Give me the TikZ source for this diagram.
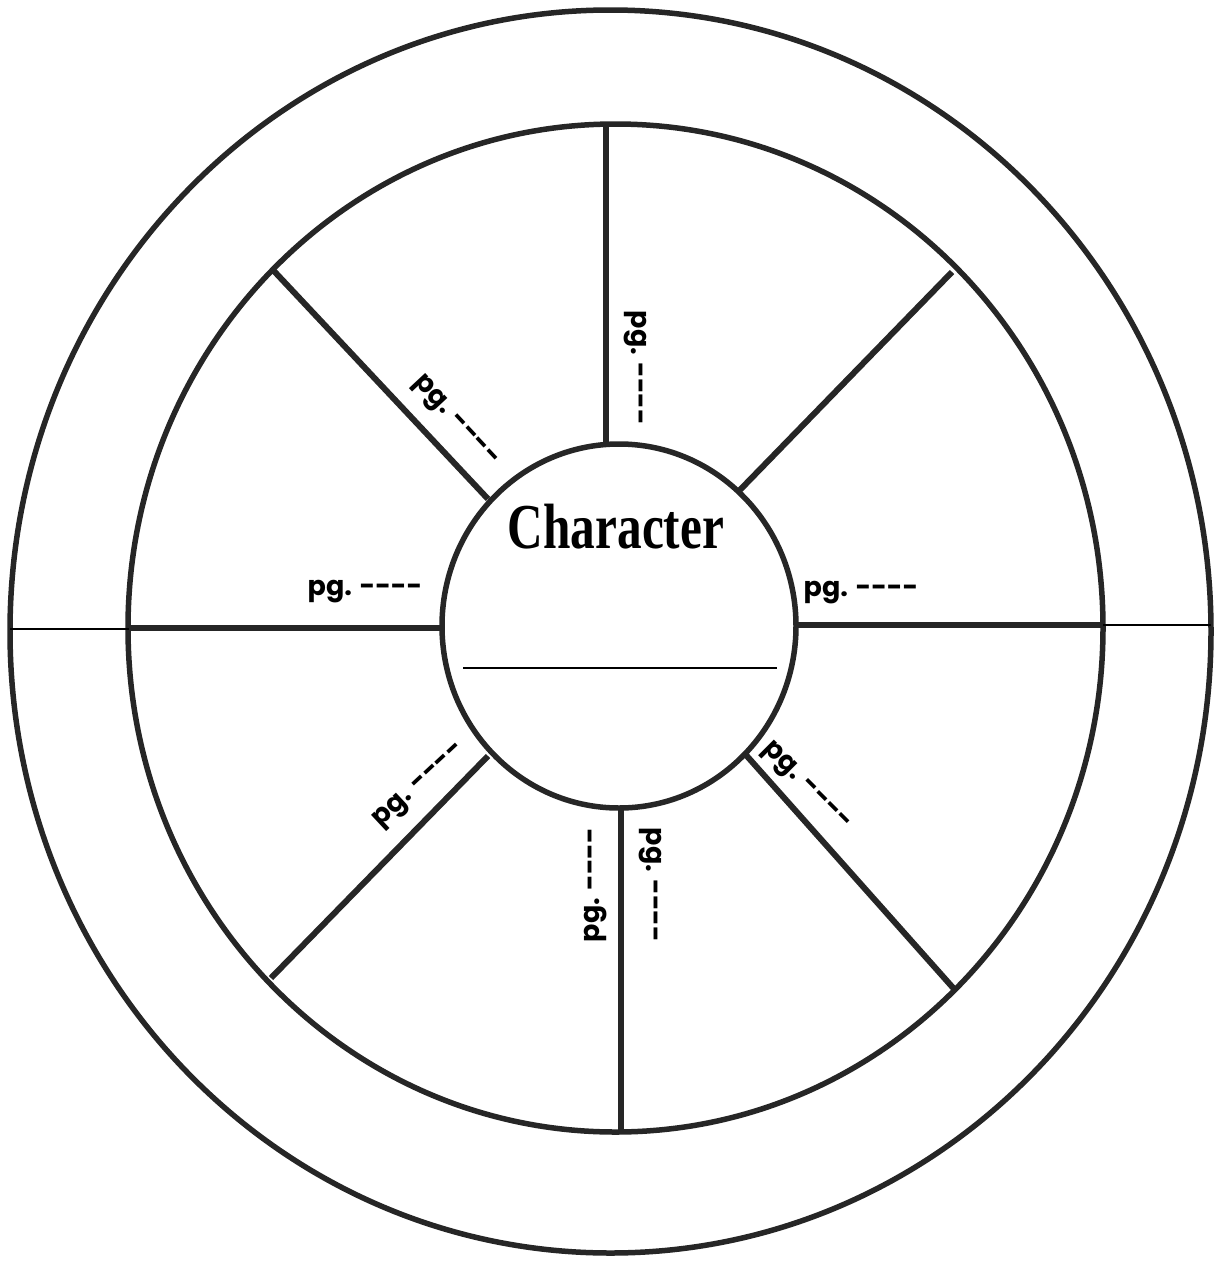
\documentclass[tikz,border=0pt]{standalone}
\usepackage{fontspec}
\setmainfont{Liberation Serif}
\newfontfamily\pgfont{Poppins}
\definecolor{ink}{HTML}{262626}
\begin{document}
\begin{tikzpicture}[x=1pt,y=-1pt,
  ring/.style={draw=ink,line width=5.5pt},
  spoke/.style={draw=ink,line width=6pt},
  thin/.style={draw=black,line width=2.5pt},
  pglabel/.style={font=\pgfont\bfseries\fontsize{27}{30}\selectfont,inner sep=0pt,text=black}]
\useasboundingbox (0,0) rectangle (1215,1261);
\fill[white] (0,0) rectangle (1215,1261);
% circles
\coordinate (c0) at (610.5,631.5);
\coordinate (c1) at (615.5,628);
\coordinate (c2) at (619,626);
\draw[ring] (c0) ellipse [x radius=600.5pt, y radius=621.5pt];
\draw[ring] (c1) ellipse [x radius=487.5pt, y radius=504pt];
\draw[ring] (c2) ellipse [x radius=177pt, y radius=182pt];
% spoke ends
\coordinate (tA) at (606,126);   \coordinate (tB) at (606,444);
\coordinate (tlA) at (273,270);  \coordinate (tlB) at (488,499);
\coordinate (trA) at (952,272);  \coordinate (trB) at (737,493);
\coordinate (lA) at (129,628);   \coordinate (lB) at (442,628);
\coordinate (rA) at (1103,625);  \coordinate (rB) at (796,625);
\coordinate (blA) at (271,978);  \coordinate (blB) at (488,756);
\coordinate (brA) at (955,990);  \coordinate (brB) at (746,755);
\coordinate (bA) at (621,1131);  \coordinate (bB) at (621,808);
\foreach \s in {t,tl,tr,l,r,bl,br,b}{\draw[spoke] (\s A) -- (\s B);}
% thin lines
\coordinate (oL) at (10,629);  \coordinate (oLi) at (129,629);
\coordinate (oR) at (1211,625);
\draw[thin] (oL) -- (oLi);
\draw[thin] (rA) -- (oR);
\coordinate (nL) at (463,668); \coordinate (nR) at (777,668);
\draw[thin] (nL) -- (nR);
% title
\node[inner sep=0pt] (title) at (616,527) {\scalebox{0.77}[1]{\fontsize{64}{66}\selectfont\bfseries Character}};
% labels
\node[pglabel,rotate=-90] (p1) at (635,368) {pg. ----};
\node[pglabel,rotate=-47] (p2) at (455,422) {pg. ----};
\node[pglabel] (p3) at (365,592) {pg. ----};
\node[pglabel] (p4) at (861,593) {pg. ----};
\node[pglabel,rotate=43] (p5) at (420,786) {pg. ----};
\node[pglabel,rotate=-45] (p6) at (806,787) {pg. ----};
\node[pglabel,rotate=90] (p7) at (596,885) {pg. ----};
\node[pglabel,rotate=-90] (p8) at (650,885) {pg. ----};
\end{tikzpicture}
\end{document}
